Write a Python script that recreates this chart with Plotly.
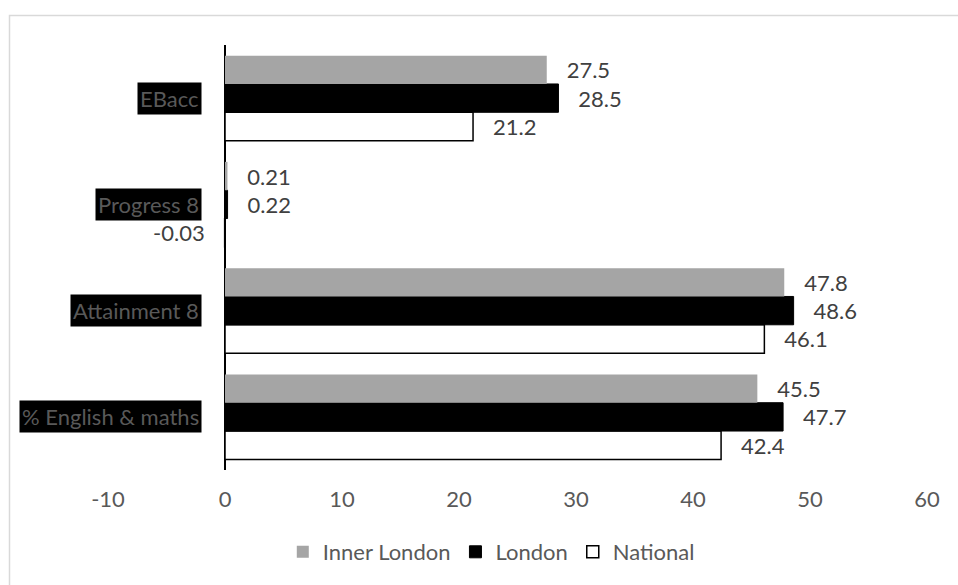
import plotly.graph_objects as go

# Key stage 4 measures, bottom to top
categories = ["% English & maths", "Attainment 8", "Progress 8", "EBacc"]
inner_london = [45.5, 47.8, 0.21, 27.5]
london = [47.7, 48.6, 0.22, 28.5]
national = [42.4, 46.1, -0.03, 21.2]

x_ticks = [-10, 0, 10, 20, 30, 40, 50, 60]

FONT = "Lato"
FS = 22
LABEL_GREY = "#595959"
NBSP = "\u00a0"

W, H = 958, 585
L, R, T, B = 108, 31, 45, 115


def labels(values):
    return [f"{NBSP * 3}{v}{NBSP * 3}" for v in values]


series = [
    ("National", national, "#ffffff", dict(color="#000000", width=1.5)),
    ("London", london, "#000000", dict(color="#000000", width=1)),
    ("Inner London", inner_london, "#a5a5a5", dict(color="#a5a5a5", width=0)),
]

fig = go.Figure()
for name, vals, fill, line in series:
    fig.add_trace(go.Bar(
        name=name,
        y=categories,
        x=vals,
        orientation="h",
        marker=dict(color=fill, line=line),
        text=labels(vals),
        textposition="outside",
        constraintext="none",
        cliponaxis=False,
        textfont=dict(family=FONT, size=FS, color="#404040"),
    ))

# category names on black tags to the left of the zero line
pw = W - L - R
for cat in categories:
    fig.add_annotation(
        x=(202 - L) / pw, xref="paper", xanchor="right",
        y=cat, yref="y", yanchor="middle",
        text=cat, showarrow=False,
        font=dict(family=FONT, size=FS, color=LABEL_GREY),
        bgcolor="#000000", borderpad=2,
    )

# light frame around the chart area
ph = H - T - B
fig.add_shape(
    type="rect", xref="paper", yref="paper",
    x0=(9.5 - L) / pw, x1=1.2,
    y0=-0.5, y1=1 + (T - 15.5) / ph,
    line=dict(color="#d9d9d9", width=1.5),
    fillcolor="rgba(0,0,0,0)", layer="below",
)

fig.update_layout(
    width=W, height=H,
    margin=dict(l=L, r=R, t=T, b=B),
    paper_bgcolor="#ffffff",
    plot_bgcolor="#ffffff",
    barmode="group",
    bargap=0.2,
    bargroupgap=0,
    font=dict(family=FONT, size=FS, color=LABEL_GREY),
    showlegend=True,
    legend=dict(
        orientation="h", traceorder="reversed",
        x=0.468, xanchor="center",
        y=(H - B - 552) / ph, yanchor="middle",
        font=dict(family=FONT, size=FS, color=LABEL_GREY),
        bgcolor="rgba(0,0,0,0)",
    ),
    xaxis=dict(
        range=[-10, 60],
        tickvals=x_ticks,
        ticktext=[str(t) for t in x_ticks],
        showgrid=False,
        zeroline=True, zerolinecolor="#000000", zerolinewidth=2,
        showline=False,
        ticks="outside", ticklen=10, tickcolor="rgba(0,0,0,0)",
        tickfont=dict(family=FONT, size=FS, color=LABEL_GREY),
        fixedrange=True,
    ),
    yaxis=dict(
        categoryorder="array", categoryarray=categories,
        showticklabels=False, showgrid=False, zeroline=False,
        showline=False, ticks="",
        fixedrange=True,
    ),
)

fig.write_html("out.html")
